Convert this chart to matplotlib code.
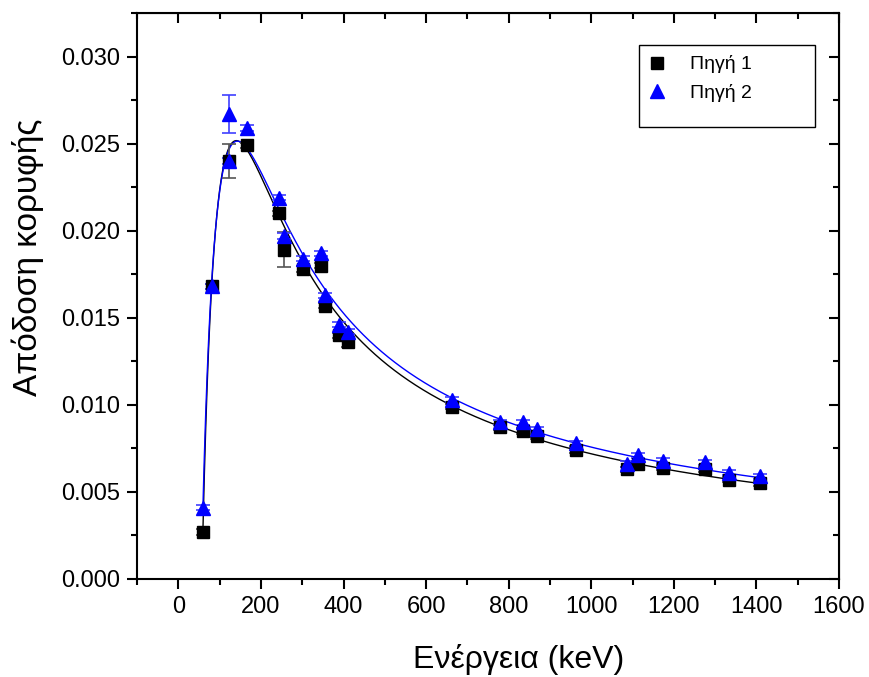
import numpy as np
import matplotlib
matplotlib.use('Agg')
import matplotlib.pyplot as plt
from matplotlib.ticker import MultipleLocator, FormatStrFormatter
from matplotlib.patches import Rectangle
from matplotlib.lines import Line2D

plt.rcParams['font.family'] = ['Liberation Sans', 'DejaVu Sans']

# peak efficiency vs gamma energy, two sources
energy1 = [59.5, 81.0, 121.8, 167.0, 244.7, 256.0, 302.9, 344.3, 356.0, 388.0, 411.1,
           661.7, 778.9, 834.8, 867.4, 964.1, 1085.8, 1112.1, 1173.2, 1274.5, 1332.5, 1408.0]
eff1 = [0.0027, 0.0168, 0.0240, 0.0249, 0.0210, 0.0189, 0.0178, 0.0180, 0.0157, 0.0140, 0.0136,
        0.0099, 0.0087, 0.0085, 0.0082, 0.0074, 0.0063, 0.0066, 0.0064, 0.0063, 0.0057, 0.0055]
err1 = [0.00015, 0.00015, 0.00095, 0.00015, 0.00015, 0.0010, 0.00015, 0.00015, 0.00015, 0.00015, 0.0003,
        0.00015, 0.00015, 0.00015, 0.00015, 0.00015, 0.00015, 0.00015, 0.00015, 0.00015, 0.00015, 0.00015]

energy2 = [59.5, 81.0, 121.8, 122.1, 167.0, 244.7, 256.0, 302.9, 344.3, 356.0, 388.0, 411.1,
           661.7, 778.9, 834.8, 867.4, 964.1, 1085.8, 1112.1, 1173.2, 1274.5, 1332.5, 1408.0]
eff2 = [0.0041, 0.0168, 0.0240, 0.0267, 0.0259, 0.0219, 0.0197, 0.0184, 0.0187, 0.0163, 0.0146, 0.0142,
        0.0103, 0.0090, 0.0090, 0.0086, 0.0078, 0.0066, 0.0071, 0.0068, 0.0067, 0.0061, 0.0059]
err2 = [0.00015, 0.00015, 0.00015, 0.0011, 0.00015, 0.00015, 0.00015, 0.00015, 0.00015, 0.00015, 0.00015, 0.00015,
        0.00015, 0.00015, 0.00015, 0.00015, 0.00015, 0.00015, 0.00015, 0.00015, 0.00015, 0.00015, 0.00015]


def eff_model(e, e0, s, c, p):
    # threshold rise times power-law tail; amplitude is fitted separately
    u = np.clip(e - e0, 0, None) / s
    return np.power(e, -c) * (1.0 - np.exp(-u**p))


def fit_curve(e, y, err):
    e, y, w = np.asarray(e), np.asarray(y), 1.0 / np.asarray(err)
    cs = np.linspace(0.4, 1.2, 81)[:, None]
    best = None
    for p in (1.0, 1.25, 1.5, 1.75, 2.0):
        for e0 in np.linspace(40.0, 59.4, 40):
            for s in np.linspace(15.0, 150.0, 91):
                g = eff_model(e[None, :], e0, s, cs, p)
                a = np.sum(w**2 * g * y, axis=1) / np.sum(w**2 * g * g, axis=1)
                chi = np.sum((w * (y - a[:, None] * g))**2, axis=1)
                k = np.argmin(chi)
                if best is None or chi[k] < best[0]:
                    best = (chi[k], a[k], e0, s, cs[k, 0], p)
    _, a, e0, s, c, p = best
    grid = np.linspace(e.min(), e.max(), 800)
    return grid, a * eff_model(grid, e0, s, c, p)


fig = plt.figure(figsize=(8.69, 6.77), dpi=100)
ax = fig.add_axes([0.1577, 0.1448, 0.8078, 0.836])

x1, f1 = fit_curve(energy1, eff1, err1)
x2, f2 = fit_curve(energy2, eff2, err2)
ax.plot(x1, f1, color='black', lw=1.0, zorder=2)
ax.plot(x2, f2, color='blue', lw=1.0, zorder=2)

ax.errorbar(energy1, eff1, yerr=err1, fmt='s', color='black', ms=9, ecolor='#555555',
            elinewidth=1.2, capsize=5, capthick=1.2, zorder=3)
ax.errorbar(energy2, eff2, yerr=err2, fmt='^', color='blue', ms=10, ecolor='#4040ff',
            elinewidth=1.2, capsize=5, capthick=1.2, zorder=3)

ax.set_xlim(-100, 1600)
ax.set_ylim(0, 0.0325)
ax.xaxis.set_major_locator(MultipleLocator(200))
ax.xaxis.set_minor_locator(MultipleLocator(100))
ax.yaxis.set_major_locator(MultipleLocator(0.005))
ax.yaxis.set_minor_locator(MultipleLocator(0.0025))
ax.yaxis.set_major_formatter(FormatStrFormatter('%.3f'))

for sp in ax.spines.values():
    sp.set_linewidth(1.5)
ax.tick_params(which='major', direction='out', length=7, width=1.5, labelsize=17, pad=5)
ax.tick_params(which='minor', direction='out', length=4, width=1.5)

# mirrored ticks on top and right point inward
top = ax.secondary_xaxis('top')
top.xaxis.set_major_locator(MultipleLocator(200))
top.xaxis.set_minor_locator(MultipleLocator(100))
top.tick_params(which='major', direction='in', length=7, width=1.5, labeltop=False)
top.tick_params(which='minor', direction='in', length=4, width=1.5)
right = ax.secondary_yaxis('right')
right.yaxis.set_major_locator(MultipleLocator(0.005))
right.yaxis.set_minor_locator(MultipleLocator(0.0025))
right.tick_params(which='major', direction='in', length=7, width=1.5, labelright=False)
right.tick_params(which='minor', direction='in', length=4, width=1.5)

ax.set_xlabel('Ενέργεια (keV)', fontsize=23)
ax.set_ylabel('Απόδοση κορυφής', fontsize=24)
ax.xaxis.set_label_coords(0.544, -0.115)
ax.yaxis.set_label_coords(-0.133, 0.569)

# legend box drawn separately so it keeps the empty third row
ax.add_patch(Rectangle((0.715, 0.7986), 0.2507, 0.145, transform=ax.transAxes, fill=False,
                       edgecolor='black', lw=1.0, zorder=5))
handles = [Line2D([], [], ls='none', marker='s', color='black', ms=9),
           Line2D([], [], ls='none', marker='^', color='blue', ms=10)]
ax.legend(handles, ['Πηγή 1', 'Πηγή 2'], loc='upper left', bbox_to_anchor=(0.702, 0.956),
          frameon=False, fontsize=14, handlelength=1.0, handletextpad=1.2, labelspacing=0.55)

fig.savefig('out.png', dpi=100)
